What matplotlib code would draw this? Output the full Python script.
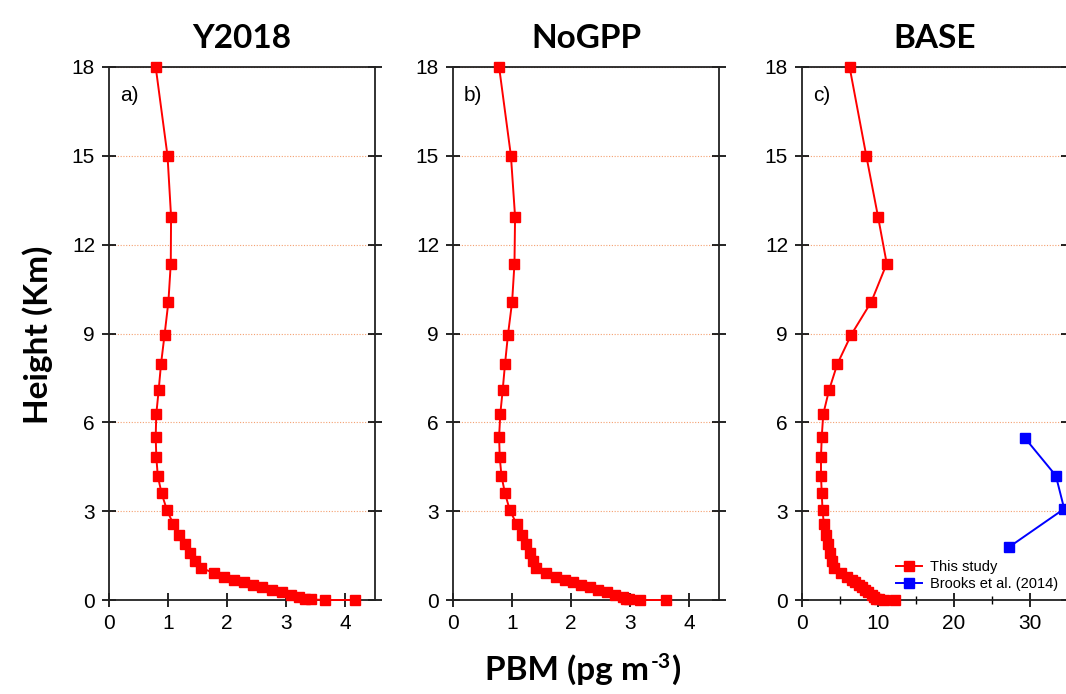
import numpy as np
import matplotlib
matplotlib.use("Agg")
from matplotlib import pyplot as plt
from matplotlib.ticker import MultipleLocator

plt.rcParams['font.family'] = ['Liberation Sans', 'DejaVu Sans']

# model levels (km)
heights = [18, 15, 12.95, 11.36, 10.07, 8.96, 7.97, 7.08, 6.28, 5.52, 4.84, 4.19,
           3.6, 3.04, 2.55, 2.2, 1.89, 1.6, 1.33, 1.08, 0.91, 0.79, 0.69, 0.6,
           0.52, 0.43, 0.35, 0.26, 0.18, 0.1, 0.05, 0.02, 0.0, 0.0]

pbm_y2018 = [0.79, 0.99, 1.05, 1.045, 1.005, 0.94, 0.88, 0.84, 0.80, 0.79, 0.80, 0.825,
             0.89, 0.98, 1.09, 1.18, 1.28, 1.37, 1.46, 1.56, 1.78, 1.95, 2.12, 2.28,
             2.43, 2.59, 2.76, 2.93, 3.08, 3.21, 3.32, 3.41, 3.66, 4.17]

pbm_nogpp = [0.78, 0.98, 1.05, 1.04, 1.0, 0.93, 0.88, 0.84, 0.80, 0.78, 0.79, 0.82,
             0.88, 0.96, 1.08, 1.16, 1.23, 1.30, 1.36, 1.41, 1.58, 1.74, 1.89, 2.03,
             2.17, 2.31, 2.45, 2.60, 2.74, 2.87, 2.93, 2.97, 3.16, 3.61]

pbm_base = [6.26, 8.46, 10.0, 11.15, 9.12, 6.48, 4.65, 3.55, 2.8, 2.6, 2.5, 2.5,
            2.6, 2.7, 2.88, 3.17, 3.39, 3.66, 3.97, 4.27, 5.07, 5.86, 6.52, 7.0,
            7.5, 7.84, 8.3, 8.7, 9.17, 9.5, 9.8, 10.1, 10.8, 12.3]

brooks_h = [5.48, 4.2, 3.08, 1.78]
brooks_pbm = [29.3, 33.4, 34.5, 27.2]

titles = ['Y2018', 'NoGPP', 'BASE']
tags = ['a)', 'b)', 'c)']
series = [pbm_y2018, pbm_nogpp, pbm_base]
xlims = [4.5, 4.5, 35]

fig = plt.figure(figsize=(10.66, 6.94), dpi=100)
lefts = [109 / 1066, 453 / 1066, 802 / 1066]
w = 266 / 1066
bot = 94 / 694
h = 533 / 694

title_font = dict(family=['Lato', 'DejaVu Sans'], weight='bold')

for i in range(3):
    ax = fig.add_axes([lefts[i], bot, w, h])
    ax.plot(series[i], heights, color='red', marker='s', ms=7, lw=1.4,
            label='This study', clip_on=False, zorder=3)
    if i == 2:
        ax.plot(brooks_pbm, brooks_h, color='blue', marker='s', ms=7, lw=1.4,
                label='Brooks et al. (2014)', clip_on=False, zorder=3)
        ax.legend(loc='lower left', bbox_to_anchor=(0.31, -0.005), frameon=False,
                  fontsize=10.5, handlelength=1.8, handletextpad=0.5,
                  labelspacing=0.2, borderpad=0.3)
        ax.xaxis.set_major_locator(MultipleLocator(10))
        ax.xaxis.set_minor_locator(MultipleLocator(5))
    else:
        ax.xaxis.set_major_locator(MultipleLocator(1))
    ax.set_xlim(0, xlims[i])
    ax.set_ylim(0, 18)
    ax.set_yticks([0, 3, 6, 9, 12, 15, 18])
    ax.yaxis.grid(True, ls=(0, (1, 1.5)), color='#f4a070', lw=0.8)
    ax.set_axisbelow(True)
    ax.tick_params(which='major', direction='inout', length=10, width=1.2,
                   labelsize=15, right=True, top=False, pad=5)
    ax.tick_params(which='minor', direction='inout', length=6, width=1.0)
    for s in ax.spines.values():
        s.set_linewidth(1.3)
        s.set_color('#222222')
    ax.text(0.04, 0.965, tags[i], transform=ax.transAxes, fontsize=15,
            va='top', ha='left')
    ax.set_title(titles[i], fontsize=24, pad=14, **title_font)

fig.text(0.035, 0.517, 'Height (Km)', rotation=90, fontsize=24,
         va='center', ha='center', **title_font)

# x label built from pieces so the superscript keeps a short hyphen
fig.canvas.draw()
r = fig.canvas.get_renderer()
base_y = 0.021
t1 = fig.text(0, base_y, 'PBM (pg m', fontsize=24, va='baseline', ha='left', **title_font)
t2 = fig.text(0, base_y, '-3', fontsize=15, va='baseline', ha='left', **title_font)
t3 = fig.text(0, base_y, ')', fontsize=24, va='baseline', ha='left', **title_font)
w1 = t1.get_window_extent(r).width
w2 = t2.get_window_extent(r).width
w3 = t3.get_window_extent(r).width
x0 = 583 - (w1 + w2 + w3 + 2) / 2
t1.set_x(x0 / 1066)
t2.set_x((x0 + w1 + 1) / 1066)
t2.set_y(base_y + 11 / 694)
t3.set_x((x0 + w1 + w2 + 2) / 1066)

fig.savefig('out.png', dpi=100)
